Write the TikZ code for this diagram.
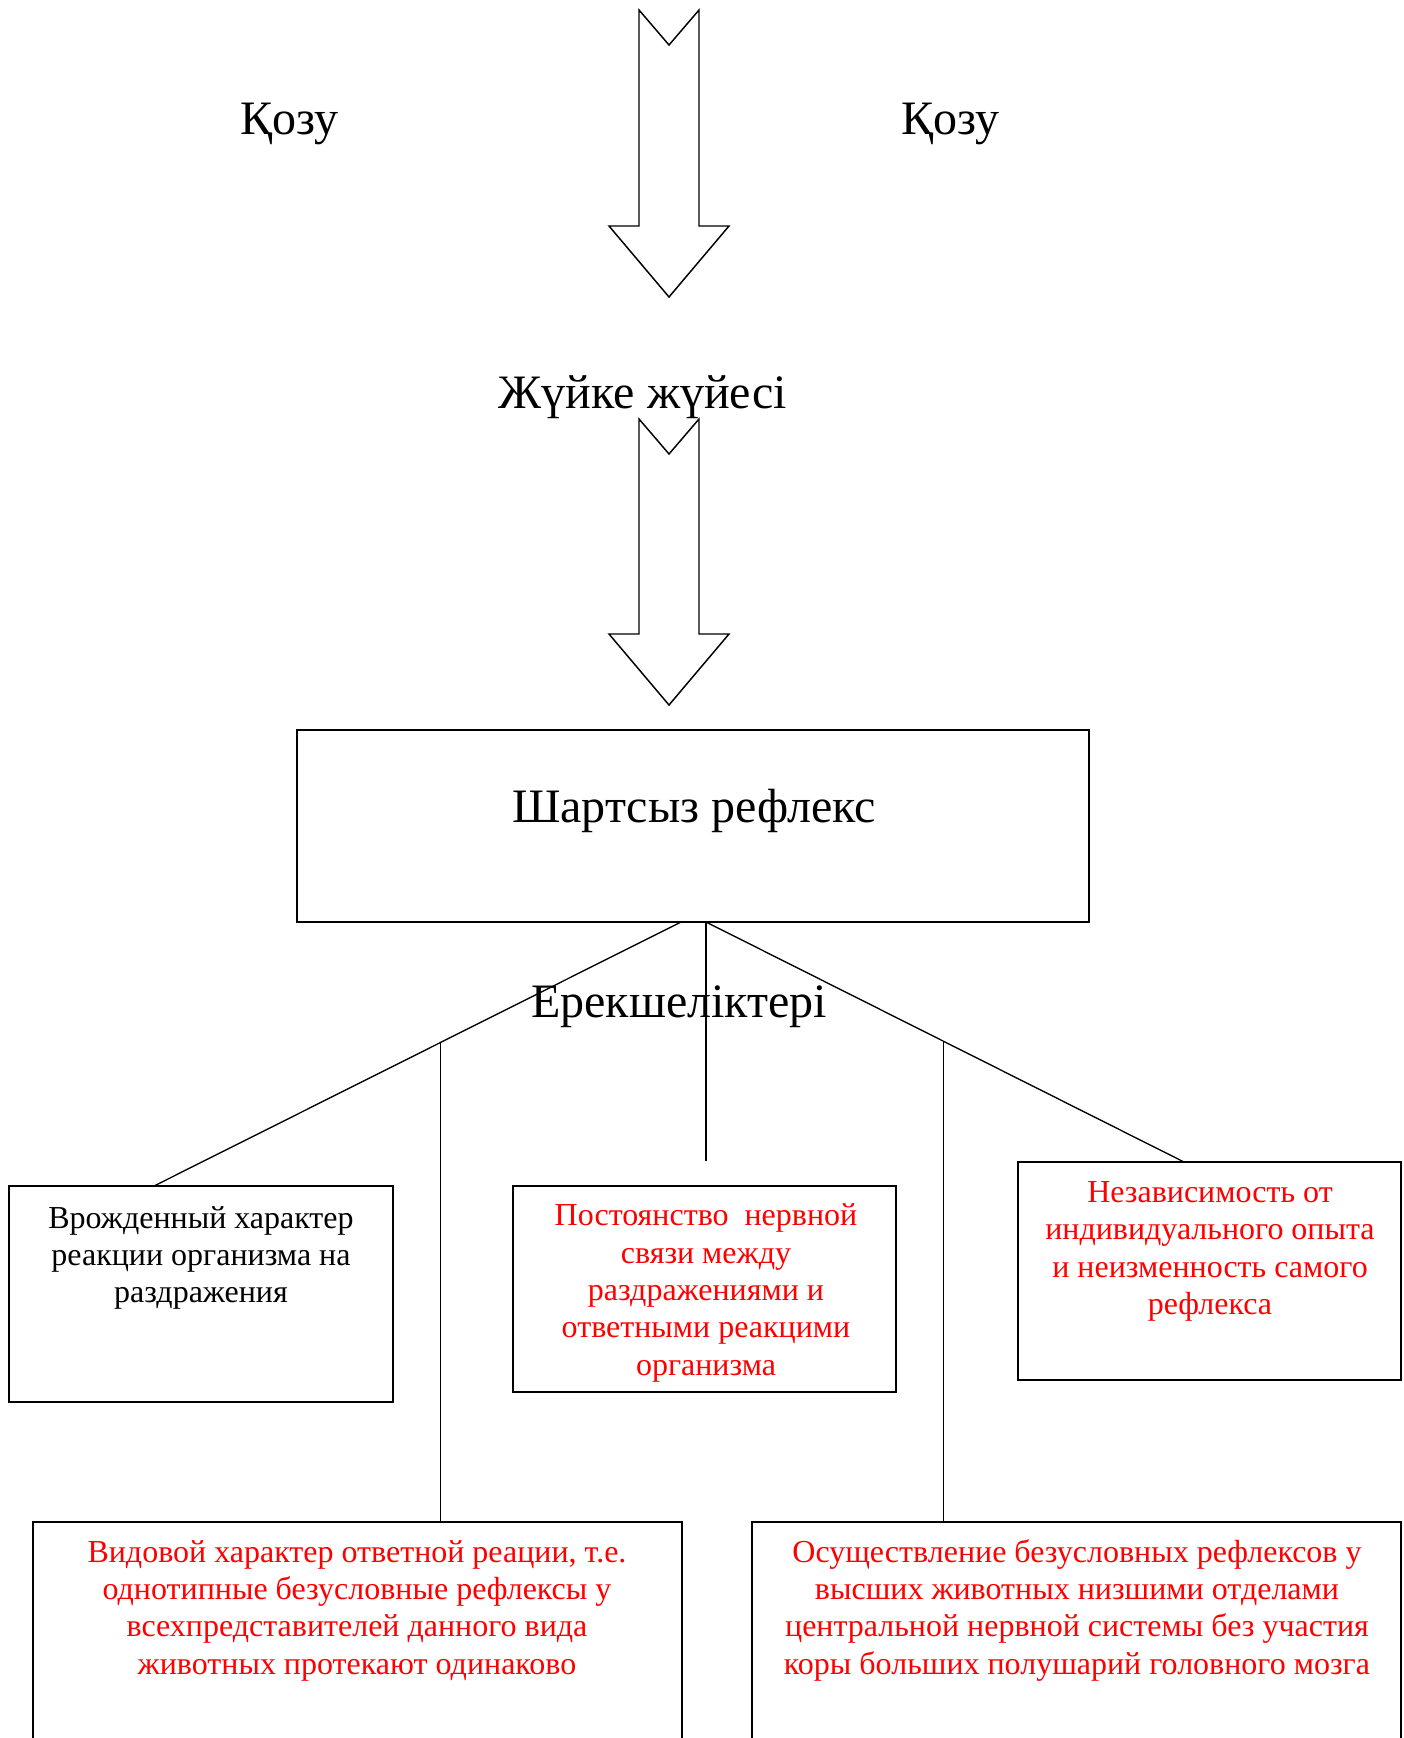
\documentclass[tikz,border=0pt]{standalone}
\usepackage{fontspec}
\setmainfont{Liberation Serif}
\usetikzlibrary{calc}
\begin{document}
\begin{tikzpicture}[x=0.75pt,y=-0.75pt,
  box/.style={draw, line width=1.1pt, inner sep=0pt, outer sep=0pt},
  conn/.style={line width=1pt},
  blockarrow/.style={draw, line width=1.1pt, line join=miter},
  big/.style={font=\fontsize{36}{43}\selectfont, inner sep=0pt, anchor=base},
  small/.style={font=\fontsize{24}{28}\selectfont, align=center, inner sep=0pt, anchor=base},
  redtext/.style={text=red}
]
\useasboundingbox (0,0) rectangle (1403,1738);
\clip (0,0) rectangle (1403,1738);

% block arrows
\draw[blockarrow] (639,10) -- (669,45) -- (699,10) -- (699,226) -- (729,226) -- (669,297) -- (609,226) -- (639,226) -- cycle;
\draw[blockarrow] (639,419) -- (669,454) -- (699,419) -- (699,634) -- (729,634) -- (669,705) -- (609,634) -- (639,634) -- cycle;

% top labels
\node[big] (q1) at (289,134) {Қозу};
\node[big] (q2) at (950,134) {Қозу};
\node[big] (nerv) at (643,408) {Жүйке жүйесі};

% main box
\node[box, minimum width=792*0.75pt, minimum height=192*0.75pt] (main) at (693,826) {};
\node[big] (maintext) at (694,822) {Шартсыз рефлекс};
\node[big] (erek) at (679,1017) {Ерекшеліктері};

% boxes
\node[box, minimum width=384*0.75pt, minimum height=216*0.75pt] (A) at (201,1294) {};
\node[box, minimum width=383*0.75pt, minimum height=206*0.75pt] (B) at (704.5,1289) {};
\node[box, minimum width=383*0.75pt, minimum height=218*0.75pt] (C) at (1209.5,1271) {};
\node[box, minimum width=649*0.75pt, minimum height=240*0.75pt] (D) at (357.5,1642) {};
\node[box, minimum width=649*0.75pt, minimum height=240*0.75pt] (E) at (1076.5,1642) {};

% multi-line text nodes: base anchor = baseline of the last line
\node[small] (Atext) at (201,1302.7) {Врожденный характер\\реакции организма на\\раздражения};
\node[small, redtext] (Btext) at (706,1375.3) {Постоянство\ \ нервной\\связи между\\раздражениями и\\ответными реакцими\\организма};
\node[small, redtext] (Ctext) at (1210,1314.5) {Независимость от\\индивидуального опыта\\и неизменность самого\\рефлекса};
\node[small, redtext] (Dtext) at (357,1674) {Видовой характер ответной реации, т.е.\\однотипные безусловные рефлексы у\\всехпредставителей данного вида\\животных протекают одинаково};
\node[small, redtext] (Etext) at (1077,1674) {Осуществление безусловных рефлексов у\\высших животных низшими отделами\\центральной нервной системы без участия\\коры больших полушарий головного мозга};

% connectors
\coordinate (mid) at (706,1161);
\draw[conn] ($(main.south)+(-12,0)$) -- ($(A.north)+(-47,0)$) coordinate[pos=0.4564] (kl);
\draw[conn] ($(main.south)+(13,0)$) -- ($(C.north)+(-25.5,0)$) coordinate[pos=0.4969] (kr);
\draw[conn] ($(main.south)+(13,0)$) -- (mid);
\draw[conn] (kl) -- (kl |- D.north);
\draw[conn] (kr) -- (kr |- E.north);
\end{tikzpicture}
\end{document}
